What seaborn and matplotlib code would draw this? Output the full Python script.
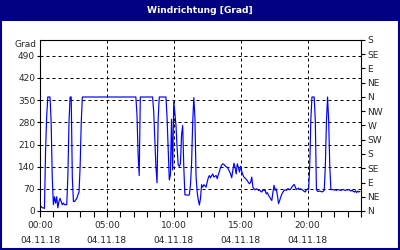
import numpy as np
import pandas as pd
import matplotlib
matplotlib.use("Agg")
import matplotlib.pyplot as plt
from matplotlib.patches import Rectangle
import seaborn as sns

# wind direction in degrees, 5-minute samples, one list per hour
h00 = [15, 15, 10, 10, 8, 190, 300, 360, 360, 360, 280, 105]
h01 = [20, 45, 25, 45, 10, 30, 40, 30, 20, 25, 20, 20]
h02 = [20, 110, 280, 360, 360, 105, 30, 30, 35, 40, 50, 60]
h03 = [140, 280, 360, 360, 360, 360, 360, 360, 360, 360, 360, 360]
h04 = [360] * 12
h05 = [360] * 12
h06 = [360] * 12
h07 = [360, 360, 360, 305, 180, 112, 360, 360, 360, 360, 360, 360]
h08 = [360, 360, 360, 360, 360, 360, 315, 225, 140, 89, 290, 360]
h09 = [360, 360, 360, 360, 360, 360, 295, 200, 98, 114, 290, 130]
h10 = [345, 310, 270, 200, 146, 141, 150, 240, 270, 140, 51, 51]
h11 = [50, 50, 51, 83, 150, 280, 358, 295, 110, 60, 35, 19]
h12 = [40, 83, 75, 83, 80, 75, 91, 105, 112, 105, 112, 117]
h13 = [107, 110, 112, 102, 115, 125, 138, 145, 149, 147, 143, 140]
h14 = [138, 132, 125, 117, 105, 128, 151, 138, 117, 149, 138, 123]
h15 = [141, 125, 115, 107, 104, 100, 96, 90, 86, 91, 107, 75]
h16 = [70, 67, 70, 69, 65, 67, 62, 60, 67, 65, 65, 54]
h17 = [58, 49, 45, 38, 33, 60, 81, 65, 70, 49, 23, 33]
h18 = [44, 54, 60, 65, 67, 65, 70, 70, 67, 70, 76, 80]
h19 = [84, 76, 68, 70, 72, 68, 70, 68, 65, 62, 60, 67]
h20 = [70, 68, 140, 290, 360, 360, 360, 285, 68, 62, 62, 63]
h21 = [62, 60, 62, 65, 140, 285, 360, 285, 140, 68, 67, 68]
h22 = [66, 67, 65, 68, 67, 66, 65, 67, 68, 66, 65, 67]
h23 = [66, 68, 65, 63, 66, 62, 60, 64, 58, 63, 60, 62]

hourly = [h00, h01, h02, h03, h04, h05, h06, h07, h08, h09, h10, h11,
          h12, h13, h14, h15, h16, h17, h18, h19, h20, h21, h22, h23]
values = [v for h in hourly for v in h]
sample_minutes = 5

time_labels = ["00:00", "05:00", "10:00", "15:00", "20:00"]
time_ticks = [0, 5, 10, 15, 20]
date_label = "04.11.18"
y_ticks = [0, 70, 140, 210, 280, 350, 420, 490]
compass = ["N", "NE", "E", "SE", "S", "SW", "W", "NW", "N", "NE", "E", "SE", "S"]
title = "Windrichtung [Grad]"
unit = "Grad"

df = pd.DataFrame({
    "hour": np.arange(len(values)) * sample_minutes / 60.0,
    "deg": values,
})

sns.set_style("white")
plt.rcParams["font.family"] = ["DejaVu Sans"]

fig = plt.figure(figsize=(4, 2.5), dpi=100)
navy = "#000080"

# title bar and frame
fig.patches.append(Rectangle((0, 1 - 21 / 250), 1, 21 / 250, transform=fig.transFigure,
                             facecolor=navy, edgecolor="none", zorder=0))
fig.patches.append(Rectangle((0.002, 0.003), 0.995, 0.994, transform=fig.transFigure,
                             facecolor="none", edgecolor=navy, linewidth=1.5, zorder=1))
fig.text(0.5, 1 - 10.5 / 250, title, color="white", fontsize=6.6, fontweight="bold",
         ha="center", va="center")

ax = fig.add_axes([40 / 400, 39 / 250, 321 / 400, 171 / 250])
sns.lineplot(data=df, x="hour", y="deg", ax=ax, color="#0000FF", linewidth=0.85)

ax.set_xlim(0, 24)
ax.set_ylim(0, 540)
ax.set_xlabel("")
ax.set_ylabel("")
ax.set_xticks(time_ticks)
ax.set_xticklabels([f"{t}\n{date_label}" for t in time_labels], fontsize=6.5,
                   linespacing=1.85)
ax.set_xticks(range(0, 25), minor=True)
ax.set_yticks(y_ticks)
ax.set_yticklabels([str(v) for v in y_ticks], fontsize=6.5)
ax.tick_params(axis="x", which="both", direction="out", length=4, width=0.8,
               color="black", pad=3, bottom=True)
ax.tick_params(axis="y", direction="out", length=2, width=0.8, color="black",
               pad=1.5, left=True)
ax.grid(True, color="black", linestyle=(0, (3, 3)), linewidth=0.72)
for s in ax.spines.values():
    s.set_color("black")
    s.set_linewidth(0.8)

ax.text(-0.012, 1.0, unit, transform=ax.transAxes, fontsize=6.5, ha="right", va="top")

ax2 = ax.twinx()
ax2.set_ylim(0, 540)
ax2.set_yticks(range(0, 541, 45))
ax2.set_yticklabels(compass, fontsize=6.5)
ax2.tick_params(axis="y", direction="out", length=3, width=0.8, color="black", pad=1.5,
                right=True)
for s in ax2.spines.values():
    s.set_visible(False)
ax2.grid(False)

fig.savefig("out.png", dpi=100)
